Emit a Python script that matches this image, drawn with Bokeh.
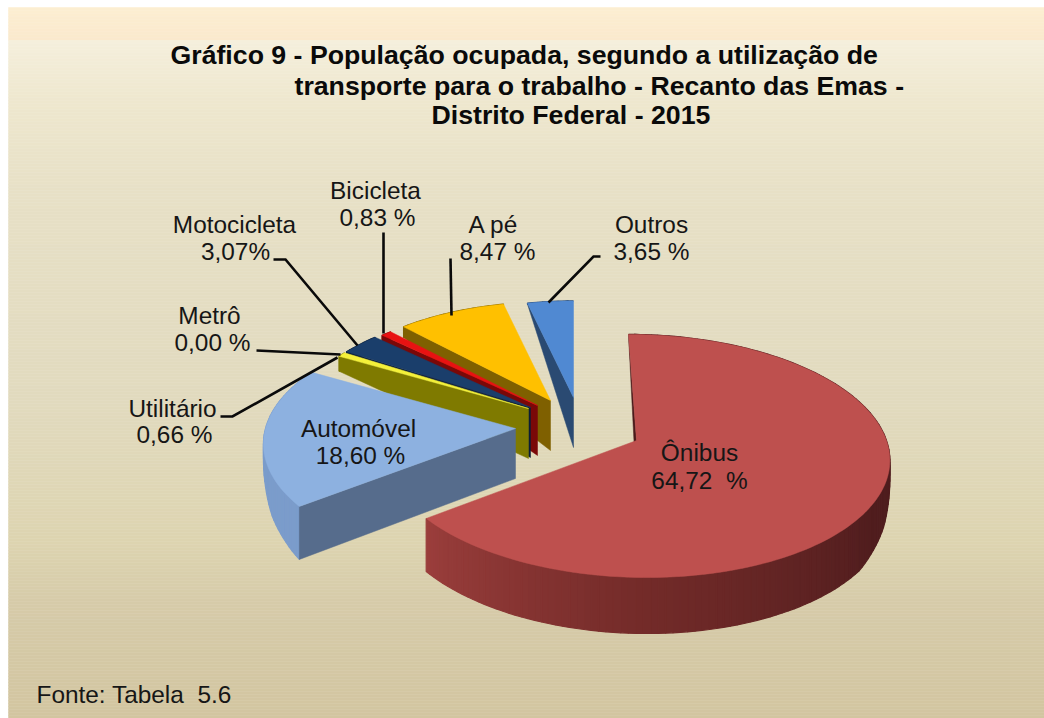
import numpy as np
from bokeh.plotting import figure
from bokeh.models import Range1d
from bokeh.core.properties import value
from bokeh.embed import file_html
from bokeh.resources import INLINE

# ---- data -------------------------------------------------------------
categories = ["Ônibus", "Automóvel", "Utilitário", "Metrô", "Motocicleta", "Bicicleta", "A pé", "Outros"]
shares = [64.72, 18.60, 0.66, 0.00, 3.07, 0.83, 8.47, 3.65]
share_labels = ["64,72\u00a0\u00a0%", "18,60 %", "0,66 %", "0,00 %", "3,07%", "0,83 %", "8,47 %", "3,65 %"]
title_lines = ["Gráfico 9 - População ocupada, segundo a utilização de",
               "transporte para o trabalho - Recanto das Emas -",
               "Distrito Federal - 2015"]
source_note = "Fonte: Tabela\u00a0\u00a05.6"

# ---- styling / layout --------------------------------------------------
top_colors = ["#BE504E", "#8DB1E0", "#F4F03A", "#000000", "#1A3E6B", "#E81212", "#FFC000", "#5089D2"]
face_colors = ["#4A1B1B", "#566C8C", "#7F7A00", "#000000", "#0B1D36", "#7A0808", "#7F6000", "#2A4A72"]
rim_colors = ["#70292A", "#7B9CCB", "#7F7A00", "#000000", "#0B1D36", "#7A0808", "#7F6000", "#2A4A72"]
# apex of each exploded slice on the canvas, radial scale, skew
apex_x = [636, 515, 528, 528, 530, 537, 550, 573]
apex_y = [440, 428, 408, 407, 407, 405, 400, 397]
scale = [1.0, 1.0, .93, .93, .93, .93, .93, .91]
skew = [9, 0, 0, 0, 0, 0, 0, 0]
A, B, K = 250.0, 119.6, 0.127
draw_order = [7, 6, 5, 4, 2, 1, 0]
label_pos = {  # centre x, baseline of the name, baseline of the value
    0: (699, 460, 488), 1: (358, 436, 463), 2: (172, 416, 442), 3: (209, 323, 350),
    4: (234, 232, 259), 5: (375, 198, 225), 6: (493, 232, 259), 7: (651, 232, 259)}
label_val_dx = {0: 0, 1: 2, 2: 2, 3: 3, 4: 1, 5: 2, 6: 4, 7: 0}
leaders = [([383, 383], [232, 333]), ([450, 451], [258, 315]),
           ([600, 593, 548], [256, 256, 302]), ([273, 285, 357], [259, 259, 345]),
           ([256, 340], [350, 354]), ([220, 232, 337], [416, 416, 357])]
bg_y = [7, 37, 38, 100, 190, 400, 540, 600, 718]
bg_c = [(252, 238, 209), (250, 233, 205), (245, 239, 220), (238, 231, 206), (231, 224, 198),
        (225, 218, 190), (221, 212, 176), (214, 203, 169), (210, 197, 160)]
rz = [-1, -.72, -.5, -.1, .1, .37, .6, 1]
rt = [0, 11, 15, 4, 12, 40, 53, 56]
onibus_rim_a = [0, 90, 120, 180, 233]
onibus_rim_c = [(78, 28, 29), (78, 28, 29), (80, 29, 30), (115, 43, 41), (155, 62, 60)]
APEX_T = 50.0
LABEL_PX, TITLE_PX = 24.4, 26.7
BASE_SHIFT = 0.33  # em, this renderer draws alphabetic text lower than asked


def to_hex(c):
    return "#%02X%02X%02X" % tuple(int(round(v)) for v in c)


def project(theta_deg, r, s, sh):
    t = np.radians(theta_deg)
    X, Z = np.sin(t) * r, -np.cos(t) * r
    d = 1 - K * Z
    return s * (A * X + sh * Z) / d, s * B * Z / d, -np.cos(t)


p = figure(width=1044, height=718, x_range=Range1d(0, 1044), y_range=Range1d(718, 0),
           output_backend="svg", toolbar_location=None, min_border=0)
p.axis.visible = False
p.grid.visible = False
p.outline_line_color = None
p.background_fill_color = "#FFFFFF"
p.border_fill_color = "#FFFFFF"

# background gradient
edges = np.arange(7, 721, 3)
cols = [to_hex([np.interp(y, bg_y, [c[i] for c in bg_c]) for i in range(3)]) for y in edges[:-1]]
p.quad(left=8, right=1046, top=edges[:-1], bottom=edges[1:], fill_color=cols, line_color=cols, line_width=0.5)

# slices, angles accumulated from the shares, clockwise from the top
bounds = np.concatenate([[0], np.cumsum(shares)]) * 3.6
for i in draw_order:
    a0, a1 = bounds[i], bounds[i + 1]
    ax, ay, s, sh = apex_x[i], apex_y[i], scale[i], skew[i]
    th = np.linspace(a0, a1, max(int((a1 - a0) / 1.5) + 2, 3))
    dx, dy, z = project(th, 1, s, sh)
    tx, ty = ax + dx, ay + dy
    T = np.interp(z, rz, rt)
    # outer wall
    xs, ys, cc = [], [], []
    for j in range(len(th) - 1):
        xs.append([tx[j], tx[j + 1], tx[j + 1], tx[j]])
        ys.append([ty[j], ty[j + 1], ty[j + 1] + T[j + 1], ty[j] + T[j]])
        if i == 0:
            cc.append(to_hex([np.interp(th[j], onibus_rim_a, [c[k] for c in onibus_rim_c]) for k in range(3)]))
        else:
            cc.append(rim_colors[i])
    p.patches(xs, ys, fill_color=cc, line_color=cc, line_width=1.2)
    # cut face at the start angle
    p.patch([tx[0], ax, ax, tx[0]], [ty[0], ay, ay + APEX_T, ty[0] + T[0]],
            fill_color=face_colors[i], line_color=face_colors[i], line_width=0.5)
    # top surface
    p.patch(np.r_[ax, tx], np.r_[ay, ty], fill_color=top_colors[i], line_color=top_colors[i], line_width=0.5)

# leader lines
for lx, ly in leaders:
    p.line(lx, ly, line_color="#0A0A0A", line_width=2.6, line_join="miter")

FONT = value("Liberation Sans")
lab_dy = BASE_SHIFT * LABEL_PX
# labels
for i, name in enumerate(categories):
    cx, y1, y2 = label_pos[i]
    p.text([cx], [y1 - lab_dy], text=[name], text_font=FONT, text_font_size=f"{LABEL_PX}px", text_color="#161616",
           text_align="center", text_baseline="alphabetic")
    p.text([cx + label_val_dx[i]], [y2 - lab_dy], text=[share_labels[i]], text_font=FONT,
           text_font_size=f"{LABEL_PX}px", text_color="#161616", text_align="center", text_baseline="alphabetic")

# title
for (tx0, ty0), line in zip([(170, 63), (294, 94), (431, 123)], title_lines):
    p.text([tx0], [ty0 - BASE_SHIFT * TITLE_PX], text=[line], text_font=FONT, text_font_size=f"{TITLE_PX}px",
           text_font_style="bold", text_color="#0A0A0A", text_align="left", text_baseline="alphabetic")

# source
p.text([36], [702 - lab_dy], text=[source_note], text_font=FONT, text_font_size=f"{LABEL_PX}px", text_color="#161616",
       text_align="left", text_baseline="alphabetic")

open("out.html", "w").write(file_html(p, INLINE))
